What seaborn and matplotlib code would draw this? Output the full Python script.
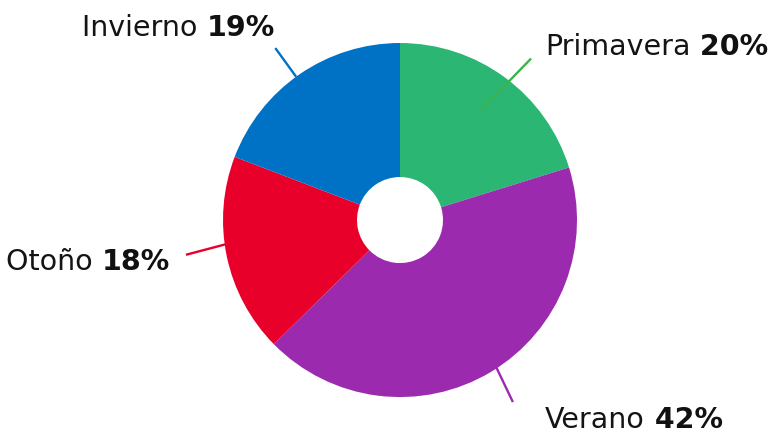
import numpy as np
import matplotlib
matplotlib.use("Agg")
import matplotlib.pyplot as plt
import seaborn as sns

seasons = ["Primavera", "Verano", "Otoño", "Invierno"]
shares = [20, 42, 18, 19]
colors = ["#2bb673", "#9b2aaf", "#e8002a", "#0072c6"]
line_colors = ["#3cb44b", "#9b2aaf", "#e8002a", "#0072c6"]

sns.set_theme(style="white")
plt.rcParams["font.family"] = ["DejaVu Sans"]

fig = plt.figure(figsize=(7.74, 4.36), dpi=100)
ax = fig.add_axes([0, 0, 1, 1])

wedges, _ = ax.pie(shares, colors=colors, startangle=90, counterclock=False,
                   radius=1, wedgeprops=dict(width=0.757, linewidth=0))

ax.set_xlim(-2.26, 2.113)
ax.set_ylim(-1.22, 1.243)
ax.set_aspect("auto")
ax.axis("off")

# leader lines: radius and angle offset (deg) from each wedge's middle
r_in = [0.77, 0.99, 0.995, 1.0]
r_out = [1.175, 1.21, 1.225, 1.2]
off_in = [0.0, 2.3, -3.9, 1.4]
off_out = [-2.7, 0.9, -2.6, 1.4]
for w, a, b, oa, ob, c in zip(wedges, r_in, r_out, off_in, off_out, line_colors):
    mid = (w.theta1 + w.theta2) / 2
    t1, t2 = np.deg2rad(mid + oa), np.deg2rad(mid + ob)
    ax.plot([a * np.cos(t1), b * np.cos(t2)], [a * np.sin(t1), b * np.sin(t2)],
            color=c, lw=1.7, solid_capstyle="butt")

# label anchors (left side labels are right-aligned)
label_x = [0.819, 0.819, -1.299, -0.706]
label_y = [0.977, -1.130, -0.237, 1.085]
fs = 20.5
for name, pct, x, y in zip(seasons, shares, label_x, label_y):
    if x > 0:
        t = ax.text(x, y, name, ha="left", va="center", fontsize=fs, color="#141414")
        ax.annotate(f" {pct}%", xy=(1, 0), xycoords=t, ha="left", va="bottom",
                    fontsize=fs, fontweight="bold", color="#111111")
    else:
        t = ax.text(x, y, f"{pct}%", ha="right", va="center", fontsize=fs,
                    fontweight="bold", color="#111111")
        ax.annotate(f"{name} ", xy=(0, 0), xycoords=t, ha="right", va="bottom",
                    fontsize=fs, color="#141414")

fig.savefig("out.png", dpi=100)
